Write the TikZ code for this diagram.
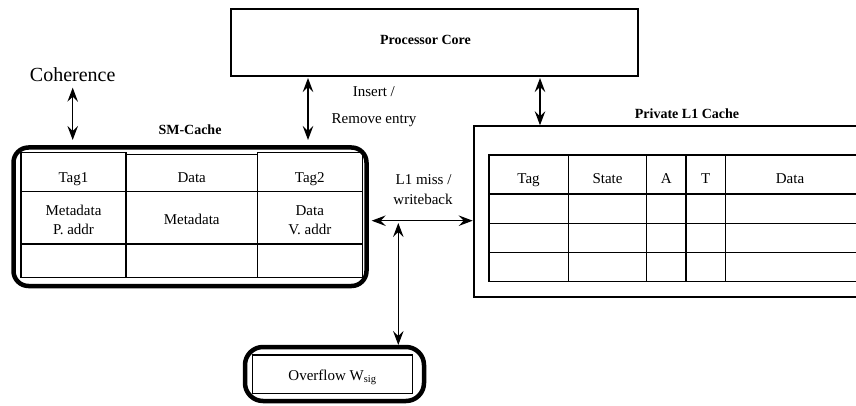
\documentclass[tikz,border=0pt]{standalone}
\usepackage{fontspec}
\setmainfont{Liberation Serif}
\usetikzlibrary{arrows.meta}
\begin{document}
\begin{tikzpicture}[x=1pt,y=-1pt,
  lbl/.style={font=\fontsize{15}{18}\selectfont, anchor=base, inner sep=0pt},
  ttl/.style={font=\fontsize{14}{17}\selectfont\bfseries, anchor=base, inner sep=0pt},
  thinbox/.style={draw, line width=1.4pt, inner sep=0pt, outer sep=0pt},
  thickbox/.style={draw, line width=4.5pt, rounded corners=15pt, inner sep=0pt, outer sep=0pt},
  gridline/.style={line width=1.4pt},
  dar/.style={line width=1.3pt, {Stealth[length=14pt,width=10.5pt,inset=5pt]}-{Stealth[length=14pt,width=10.5pt,inset=5pt]}}
]
\useasboundingbox (0,0) rectangle (856,406);
\clip (0,0) rectangle (856,406);

% Processor core
\node[thinbox, minimum width=407pt, minimum height=67pt] (core) at (434.5,42.5) {};
\node[ttl] (coretxt) at (425.5,44.3) {Processor Core};

% Coherence
\node[font=\fontsize{20}{24}\selectfont, anchor=base, inner sep=0pt] (coh) at (72.7,81.7) {Coherence};

% SM-Cache
\node[thickbox, minimum width=353pt, minimum height=138.5pt] (sm) at (190,216.75) {};
\node[ttl] (smtitle) at (190,134.3) {SM-Cache};
\draw[gridline] (21,152.7) rectangle (126,277.3);
\draw[gridline] (126,154.3) rectangle (257.3,277.3);
\draw[gridline] (257.3,152.7) rectangle (362.3,277.3);
\draw[gridline] (21,191.7) -- (362.3,191.7);
\draw[gridline] (21,244) -- (362.3,244);
\node[lbl] (c11) at (73.5,182.5) {Tag1};
\node[lbl] (c12) at (191.7,182.5) {Data};
\node[lbl] (c13) at (309.8,182.5) {Tag2};
\node[lbl] (c21a) at (73.5,215) {Metadata};
\node[lbl] (c21b) at (73.5,234.3) {P. addr};
\node[lbl] (c22) at (191.7,224) {Metadata};
\node[lbl] (c23a) at (309.8,215) {Data};
\node[lbl] (c23b) at (309.8,234.3) {V. addr};

% Private L1 cache
\node[thinbox, line width=1.3pt, minimum width=426pt, minimum height=171pt] (l1) at (687,211.5) {};
\node[ttl] (l1title) at (687,119) {Private L1 Cache};
\draw[gridline] (489,155) rectangle (858,281.7);
\foreach \yy in {194,223.3,252.7} \draw[gridline] (489,\yy) -- (858,\yy);
\foreach \xx in {568.3,646.7,686,725.3} \draw[gridline] (\xx,155) -- (\xx,281.7);
\node[lbl] (h1) at (528.5,183.3) {Tag};
\node[lbl] (h2) at (607.5,183.3) {State};
\node[lbl] (h3) at (666.3,183.3) {A};
\node[lbl] (h4) at (705.6,183.3) {T};
\node[lbl] (h5) at (790,183.3) {Data};

% Overflow
\node[thickbox, rounded corners=18pt, minimum width=179pt, minimum height=54pt] (ovf) at (334.5,374) {};
\node[thinbox, line width=1.2pt, minimum width=160pt, minimum height=38.3pt] (ovfin) at (332.7,374.2) {};
\node[lbl] (ovftxt) at (332.5,380) {Overflow W\textsubscript{sig}};

% labels
\node[lbl] (ins1) at (373.8,96.7) {Insert /};
\node[lbl] (ins2) at (374,123.3) {Remove entry};
\node[lbl] (miss1) at (423.5,185) {L1 miss /};
\node[lbl] (miss2) at (423,204.3) {writeback};

% connectors
\coordinate (junc) at (398.3,220.7);
\coordinate (x308) at (308,0);
\coordinate (x540) at (540,0);
\coordinate (smtop) at ([yshift=7.5pt]sm.north);
\coordinate (corebot) at ([yshift=-2pt]core.south);
\draw[dar] ([yshift=-5.6pt]coh.south) -- (smtop -| coh.south);
\draw[dar] (corebot -| x308) -- (smtop -| x308);
\draw[dar, shorten >=0.7pt] (corebot -| x540) -- (l1.north -| x540);
\draw[dar, shorten <=5.2pt, shorten >=1.3pt] (junc -| sm.east) -- (junc -| l1.west);
\draw[dar, shorten >=2pt] ([yshift=-2.3pt]junc) -- (ovf.north -| junc);
\end{tikzpicture}
\end{document}
